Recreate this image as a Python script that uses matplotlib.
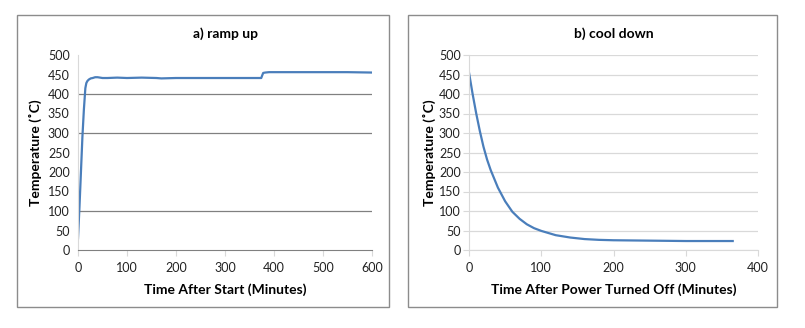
import matplotlib
matplotlib.use("Agg")
import matplotlib.pyplot as plt
from matplotlib.patches import Rectangle

plt.rcParams['font.family'] = ['Lato', 'DejaVu Sans']

# ramp up data
ramp_t = [0, 3, 6, 9, 12, 15, 17, 19, 22, 26, 30, 35, 40, 45, 50, 60, 80, 100, 130, 160, 170,
          200, 250, 300, 350, 374, 376, 378, 382, 390, 400, 450, 500, 550, 600]
ramp_T = [30, 110, 200, 290, 360, 415, 428, 433, 437, 440, 441, 443, 443, 442, 441, 441, 442, 441, 442, 441, 440,
          441, 441, 441, 441, 441, 448, 454, 455, 456, 456, 456, 456, 456, 455]

# cool down data
cool_t = [0, 5, 10, 15, 20, 25, 30, 40, 50, 60, 70, 80, 90, 100, 120, 140, 160, 180, 200, 250, 300, 365]
cool_T = [455, 400, 350, 305, 265, 232, 205, 160, 125, 98, 80, 66, 56, 49, 38, 32, 28, 26, 25, 24, 23, 23]

line_color = '#4a7ebb'
W, H = 805, 328
fig = plt.figure(figsize=(W / 100, H / 100), dpi=100)

def fr(x0, y0, x1, y1):
    return [x0 / W, 1 - y1 / H, (x1 - x0) / W, (y1 - y0) / H]

# frames
for (x0, x1) in [(17, 389), (408, 777)]:
    fig.patches.append(Rectangle((x0 / W, 1 - 307 / H), (x1 - x0) / W, (307 - 15) / H,
                                 transform=fig.transFigure, fill=False,
                                 edgecolor='#8c8c8c', linewidth=1.0))

tick_font = 9
label_font = 10

# Left panel
ax1 = fig.add_axes(fr(78, 55, 372, 250))
ax1.plot(ramp_t, ramp_T, color=line_color, linewidth=1.6)
ax1.set_xlim(0, 600)
ax1.set_ylim(0, 500)
ax1.set_xticks(range(0, 601, 100))
ax1.set_yticks(range(0, 501, 50))
for g in [100, 300, 400]:
    ax1.axhline(g, color='#808080', linewidth=0.9, zorder=0)
for s in ['top', 'right']:
    ax1.spines[s].set_visible(False)
ax1.spines['bottom'].set_color('#808080')
ax1.spines['left'].set_color('#d9d9d9')
ax1.tick_params(axis='x', colors='#d9d9d9', labelcolor='#222222', labelsize=tick_font, length=4, pad=5)
ax1.tick_params(axis='y', length=0, labelcolor='#222222', labelsize=tick_font, pad=6)
ax1.set_xlabel('Time After Start (Minutes)', fontsize=label_font, fontweight='bold', labelpad=6)
ax1.set_ylabel('Temperature (˚C)', fontsize=label_font, fontweight='bold', labelpad=4)
ax1.set_title('a) ramp up', fontsize=label_font, fontweight='bold', pad=12)

# Right panel
ax2 = fig.add_axes(fr(469, 55, 758, 250))
ax2.plot(cool_t, cool_T, color=line_color, linewidth=1.6)
ax2.set_xlim(0, 400)
ax2.set_ylim(0, 500)
ax2.set_xticks(range(0, 401, 100))
ax2.set_yticks(range(0, 501, 50))
ax2.grid(axis='y', color='#d9d9d9', linewidth=0.9)
ax2.set_axisbelow(True)
for s in ['top', 'right']:
    ax2.spines[s].set_visible(False)
ax2.spines['bottom'].set_color('#d9d9d9')
ax2.spines['left'].set_color('#d9d9d9')
ax2.tick_params(axis='x', colors='#d9d9d9', labelcolor='#222222', labelsize=tick_font, length=4, pad=5)
ax2.tick_params(axis='y', colors='#d9d9d9', labelcolor='#222222', labelsize=tick_font, length=4, pad=2)
ax2.set_xlabel('Time After Power Turned Off (Minutes)', fontsize=label_font, fontweight='bold', labelpad=6)
ax2.set_ylabel('Temperature (˚C)', fontsize=label_font, fontweight='bold', labelpad=2)
ax2.set_title('b) cool down', fontsize=label_font, fontweight='bold', pad=12)

fig.savefig('out.png', dpi=100)
